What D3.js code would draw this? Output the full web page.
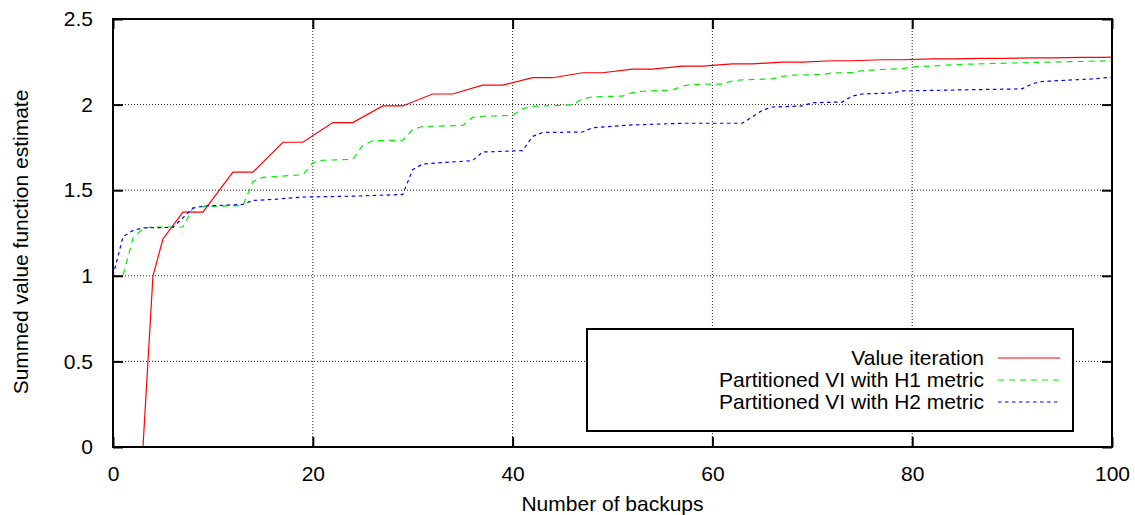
<!DOCTYPE html>
<html>
<head>
<meta charset="utf-8">
<script src="https://cdn.jsdelivr.net/npm/d3@7"></script>
<style>
  body { margin: 0; background: #fff; }
  svg { display: block; font-family: "Liberation Sans", Arial, sans-serif; }
  .grid line { stroke: #222; stroke-width: 1; stroke-dasharray: 1,2; }
</style>
</head>
<body>
<svg id="chart" width="1135" height="515"></svg>
<script>
// Value iteration
const viX = [3, 4, 5, 7, 9, 12, 14, 17, 19, 22, 24, 27, 29, 32, 34, 37, 39, 42, 44, 47, 49,
  52, 54, 57, 59, 62, 64, 67, 69, 72, 74, 77, 79, 82, 84, 87, 89, 92, 94, 97, 99, 100]
const viY = [0, 1.0, 1.215, 1.372, 1.372, 1.605, 1.605, 1.78, 1.78, 1.895, 1.895, 1.992, 1.992,
  2.062, 2.062, 2.114, 2.114, 2.157, 2.157, 2.186, 2.186, 2.207, 2.207, 2.225, 2.225, 2.238,
  2.238, 2.248, 2.248, 2.256, 2.256, 2.262, 2.262, 2.267, 2.267, 2.27, 2.27, 2.273, 2.273,
  2.276, 2.276, 2.277]

// Partitioned VI, H1 metric
const h1X = [0, 1, 2, 3, 4, 7, 8, 9, 13, 14, 15, 19, 20, 21, 24, 25, 26, 29, 30, 31, 35, 36, 37,
  40, 41, 42, 46, 47, 48, 51, 52, 53, 56, 57, 58, 61, 62, 63, 66, 67, 68, 71, 72, 74, 75, 77,
  79, 80, 82, 85, 88, 92, 95, 100]
const h1Y = [1.0, 1.0, 1.22, 1.277, 1.285, 1.285, 1.397, 1.405, 1.41, 1.55, 1.575, 1.59, 1.66,
  1.675, 1.68, 1.763, 1.789, 1.792, 1.855, 1.872, 1.878, 1.925, 1.932, 1.937, 1.975, 1.99,
  1.998, 2.035, 2.045, 2.05, 2.07, 2.078, 2.085, 2.108, 2.118, 2.12, 2.138, 2.145, 2.15,
  2.165, 2.172, 2.176, 2.185, 2.187, 2.198, 2.205, 2.21, 2.22, 2.226, 2.235, 2.24, 2.246,
  2.25, 2.256]

// Partitioned VI, H2 metric
const h2X = [0, 1, 2, 3, 6, 8, 9, 13, 14, 16, 19, 24, 29, 30, 31, 36, 37, 41, 42, 43, 47, 48,
  52, 57, 63, 64, 65, 66, 69, 70, 73, 74, 75, 78, 79, 91, 92, 93, 98, 100]
const h2Y = [1.0, 1.228, 1.265, 1.28, 1.283, 1.395, 1.407, 1.417, 1.44, 1.446, 1.46, 1.465,
  1.475, 1.62, 1.653, 1.673, 1.723, 1.731, 1.814, 1.837, 1.84, 1.865, 1.881, 1.891, 1.891,
  1.929, 1.967, 1.986, 1.992, 2.011, 2.015, 2.05, 2.062, 2.068, 2.08, 2.092, 2.121, 2.135,
  2.15, 2.16]

const xTicks = [0, 20, 40, 60, 80, 100]
const yTicks = [0, 0.5, 1, 1.5, 2, 2.5]
const seriesNames = ['Value iteration', 'Partitioned VI with H1 metric', 'Partitioned VI with H2 metric']

const series = [
  { name: seriesNames[0], xs: viX, ys: viY, color: '#ff0000', dash: null },
  { name: seriesNames[1], xs: h1X, ys: h1Y, color: '#00f000', dash: '6,5' },
  { name: seriesNames[2], xs: h2X, ys: h2Y, color: '#0000ff', dash: '3.5,3.5' }
]

const svg = d3.select('#chart')
const pLeft = 113, pRight = 1112, pTop = 19, pBottom = 447
const fs = '21px'

const x = d3.scaleLinear().domain([0, 100]).range([pLeft, pRight])
const y = d3.scaleLinear().domain([0, 2.5]).range([pBottom, pTop])

// grid
const grid = svg.append('g').attr('class', 'grid')
grid.selectAll('line.gx')
  .data(xTicks.slice(1, -1))
  .enter().append('line')
  .attr('class', 'gx')
  .attr('x1', d => x(d)).attr('x2', d => x(d))
  .attr('y1', pTop).attr('y2', pBottom)
grid.selectAll('line.gy')
  .data(yTicks.slice(1, -1))
  .enter().append('line')
  .attr('class', 'gy')
  .attr('x1', pLeft).attr('x2', pRight)
  .attr('y1', d => y(d)).attr('y2', d => y(d))

// curves
const line = d3.line().x(d => x(d[0])).y(d => y(d[1]))
svg.append('g')
  .selectAll('path')
  .data(series)
  .enter().append('path')
  .attr('d', s => line(s.xs.map((v, i) => [v, s.ys[i]])))
  .attr('fill', 'none')
  .attr('stroke', s => s.color)
  .attr('stroke-width', 1.2)
  .attr('stroke-dasharray', s => s.dash)

// axes, ticks inward and mirrored
const tickLen = 10
const axB = d3.axisBottom(x).tickValues(xTicks).tickSize(-tickLen).tickPadding(tickLen + 9)
const axL = d3.axisLeft(y).tickValues(yTicks).tickSize(-tickLen).tickPadding(tickLen + 10)
  .tickFormat(d3.format('~g'))
const axT = d3.axisTop(x).tickValues(xTicks).tickSize(-tickLen).tickFormat('')
const axR = d3.axisRight(y).tickValues(yTicks).tickSize(-tickLen).tickFormat('')

function styleAxis(g) {
  g.select('.domain').remove()
  g.selectAll('.tick line').attr('stroke', '#000').attr('stroke-width', 2)
  g.selectAll('.tick text').attr('fill', '#000').style('font-size', fs)
}
svg.append('g').attr('transform', `translate(0,${pBottom})`).call(axB).call(styleAxis)
svg.append('g').attr('transform', `translate(${pLeft},0)`).call(axL).call(styleAxis)
svg.append('g').attr('transform', `translate(0,${pTop})`).call(axT).call(styleAxis)
svg.append('g').attr('transform', `translate(${pRight},0)`).call(axR).call(styleAxis)

svg.append('rect')
  .attr('x', pLeft).attr('y', pTop)
  .attr('width', pRight - pLeft).attr('height', pBottom - pTop)
  .attr('fill', 'none').attr('stroke', '#000').attr('stroke-width', 2)

// axis titles
svg.append('text')
  .attr('x', (pLeft + pRight) / 2).attr('y', 511)
  .attr('text-anchor', 'middle')
  .style('font-size', fs)
  .text('Number of backups')
svg.append('text')
  .attr('transform', `translate(28,${(pTop + pBottom) / 2 + 9}) rotate(-90)`)
  .attr('text-anchor', 'middle')
  .style('font-size', fs)
  .text('Summed value function estimate')

// legend
const lg = svg.append('g')
lg.append('rect')
  .attr('x', 587).attr('y', 329).attr('width', 486).attr('height', 102)
  .attr('fill', '#fff').attr('stroke', '#000').attr('stroke-width', 2)
const rows = lg.selectAll('g.row')
  .data(series)
  .enter().append('g')
  .attr('transform', (d, i) => `translate(0,${358 + i * 22})`)
rows.append('text')
  .attr('x', 984).attr('y', 7)
  .attr('text-anchor', 'end')
  .style('font-size', fs)
  .text(d => d.name)
rows.append('line')
  .attr('x1', 998).attr('x2', 1060)
  .attr('stroke', d => d.color)
  .attr('stroke-width', 1.2)
  .attr('stroke-dasharray', d => d.dash)
</script>
</body>
</html>
